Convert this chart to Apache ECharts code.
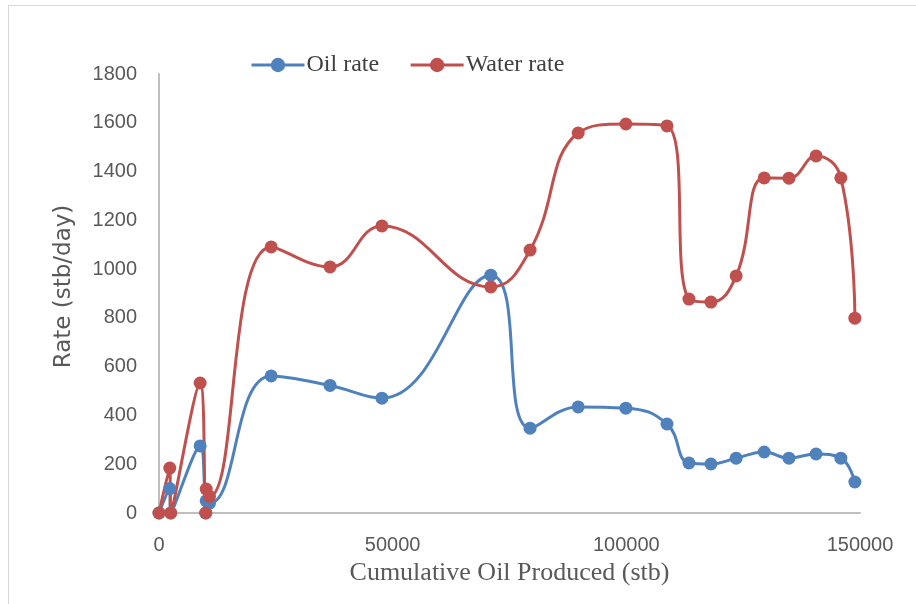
<!DOCTYPE html>
<html>
<head>
<meta charset="utf-8">
<script src="https://cdn.jsdelivr.net/npm/echarts@6/dist/echarts.min.js"></script>
<style>
  html, body { margin: 0; padding: 0; background: #fff; }
  #frame { position: absolute; left: 8px; top: 5px; width: 916px; height: 604px; border: 1px solid #d9d9d9; box-sizing: border-box; }
  #chart { position: absolute; left: 0; top: 0; width: 916px; height: 604px; }
</style>
</head>
<body>
<div id="frame"></div>
<div id="chart"></div>
<script>
// cumulative oil produced (stb)
const cumOil = [0, 2300, 2500, 8800, 10000, 10100, 10800, 24000, 36600, 47700, 71000, 79400, 89700, 99900, 108700, 113400, 118100, 123500, 129500, 134800, 140600, 145900, 148900]
const oilRate = [0, 100, 0, 275, 0, 50, 40, 562, 523, 471, 975, 348, 435, 430, 365, 205, 201, 225, 250, 225, 242, 225, 127]
const waterRate = [0, 184, 0, 533, 0, 98, 68, 1091, 1009, 1177, 927, 1078, 1558, 1595, 1587, 877, 865, 972, 1374, 1373, 1464, 1374, 799]
const yTicks = [0, 1800, 200]
const xTicks = [0, 150000, 50000]

const chart = echarts.init(document.getElementById('chart'))

const pairs = (ys) => cumOil.map((x, i) => [x, ys[i]])

const tickFont = { fontFamily: 'Liberation Sans, sans-serif', fontSize: 20, color: '#595959', formatter: v => String(v) }

const option = {
  animation: false,
  grid: { left: 159, right: 56, top: 74, bottom: 91 },
  legend: {
    left: 245,
    top: 48,
    itemWidth: 53,
    itemHeight: 18,
    itemGap: 30,
    lineStyle: { width: 3 },
    textStyle: { fontFamily: 'Liberation Serif, serif', fontSize: 24, color: '#404040', padding: [0, 0, 0, -3] },
    data: ['Oil rate', 'Water rate']
  },
  xAxis: {
    type: 'value',
    min: xTicks[0],
    max: xTicks[1],
    interval: xTicks[2],
    name: 'Cumulative Oil Produced (stb)',
    nameLocation: 'middle',
    nameGap: 36,
    nameTextStyle: { fontFamily: 'Liberation Serif, serif', fontSize: 26, color: '#595959' },
    axisLine: { lineStyle: { color: '#bfbfbf', width: 2 } },
    axisTick: { show: false },
    axisLabel: Object.assign({ margin: 22 }, tickFont),
    splitLine: { show: false }
  },
  yAxis: {
    type: 'value',
    min: yTicks[0],
    max: yTicks[1],
    interval: yTicks[2],
    name: 'Rate (stb/day)',
    nameLocation: 'middle',
    nameGap: 83,
    nameTextStyle: { fontFamily: '"DejaVu Sans", Verdana, sans-serif', fontSize: 23, color: '#595959', padding: [0, 0, 0, 14] },
    axisLine: { show: true, lineStyle: { color: '#bfbfbf', width: 2 } },
    axisTick: { show: false },
    axisLabel: Object.assign({ margin: 22 }, tickFont),
    splitLine: { show: false }
  },
  series: [
    {
      name: 'Oil rate',
      type: 'line',
      smooth: 0.45,
      data: pairs(oilRate),
      symbol: 'circle',
      symbolSize: 13,
      color: '#4f81bd',
      lineStyle: { width: 3, color: '#4f81bd' },
      itemStyle: { color: '#4f81bd' }
    },
    {
      name: 'Water rate',
      type: 'line',
      smooth: 0.45,
      data: pairs(waterRate),
      symbol: 'circle',
      symbolSize: 13,
      color: '#c0504d',
      lineStyle: { width: 3, color: '#c0504d' },
      itemStyle: { color: '#c0504d' }
    }
  ]
}

chart.setOption(option)
</script>
</body>
</html>
